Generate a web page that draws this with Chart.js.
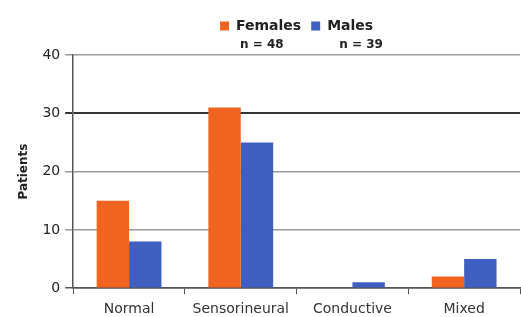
<!DOCTYPE html>
<html>
<head>
<meta charset="utf-8">
<script src="https://cdn.jsdelivr.net/npm/chart.js@4"></script>
<style>
  body { margin: 0; background: #fff; }
  #wrap { width: 521px; height: 317px; }
</style>
</head>
<body>
<div id="wrap"><canvas id="myChart"></canvas></div>
<script>
// data
const categories = ["Normal", "Sensorineural", "Conductive", "Mixed"];
const females = [15, 31, 0, 2];
const males = [8, 25, 1, 5];
const seriesNames = ["Females", "Males"];
const nLabels = ["n = 48", "n = 39"];
const yTicks = [0, 10, 20, 30, 40];

const orange = '#f0641f';
const blue = '#3f5fc0';
const font = 'DejaVu Sans';

// draws the "n = .." line under each legend item
const nLinePlugin = {
  id: 'nLine',
  afterDraw(chart) {
    const boxes = chart.legend.legendHitBoxes;
    const offsets = [20, 28];
    const c = chart.ctx;
    c.save();
    c.font = 'bold 12px ' + font;
    c.fillStyle = '#222';
    c.textBaseline = 'middle';
    c.textAlign = 'left';
    boxes.forEach(function(hb, i){
      c.fillText(nLabels[i], hb.left + offsets[i], hb.top + hb.height + 12);
    });
    c.restore();
  }
};

const ctx = document.getElementById('myChart');

new Chart(ctx, {
  type: 'bar',
  data: {
    labels: categories,
    datasets: [{
      label: seriesNames[0],
      data: females,
      backgroundColor: orange
    }, {
      label: seriesNames[1],
      data: males,
      backgroundColor: blue
    }]
  },
  options: {
    responsive: true,
    maintainAspectRatio: false,
    animation: false,
    datasets: {
      bar: { categoryPercentage: 0.58, barPercentage: 1 }
    },
    layout: { padding: { top: 9, left: 7, right: 1, bottom: -8 } },
    plugins: {
      legend: {
        position: 'top',
        fullSize: false,
        labels: {
          boxWidth: 9,
          boxHeight: 9,
          padding: 10,
          color: '#222',
          font: { family: font, size: 14, weight: 'bold' }
        }
      },
      subtitle: {
        display: true,
        text: ' ',
        position: 'top',
        weight: 500,
        fullSize: false,
        padding: 0,
        font: { size: 10 }
      },
      tooltip: { enabled: false }
    },
    scales: {
      x: {
        grid: {
          offset: true,
          drawOnChartArea: false,
          drawTicks: true,
          tickLength: 6,
          color: '#555'
        },
        border: { color: '#555', width: 1.5 },
        ticks: {
          padding: 7,
          color: '#333',
          font: { family: font, size: 14 }
        }
      },
      y: {
        min: 0,
        max: 40,
        afterBuildTicks(axis) {
          axis.ticks = yTicks.map(v => ({ value: v }));
        },
        grid: {
          tickLength: 8,
          color: c => c.tick && c.tick.value === 30 ? '#333' : (c.tick && c.tick.value === 0 ? '#555' : '#999'),
          lineWidth: c => c.tick && c.tick.value === 30 ? 2 : 1.5
        },
        border: { color: '#555', width: 1.5 },
        ticks: {
          padding: 5,
          color: '#222',
          font: { family: font, size: 14 }
        },
        title: {
          display: true,
          text: 'Patients',
          color: '#222',
          padding: { top: 10, bottom: 6 },
          font: { family: font, size: 12, weight: 'bold' }
        }
      }
    }
  },
  plugins: [nLinePlugin]
});
</script>
</body>
</html>
